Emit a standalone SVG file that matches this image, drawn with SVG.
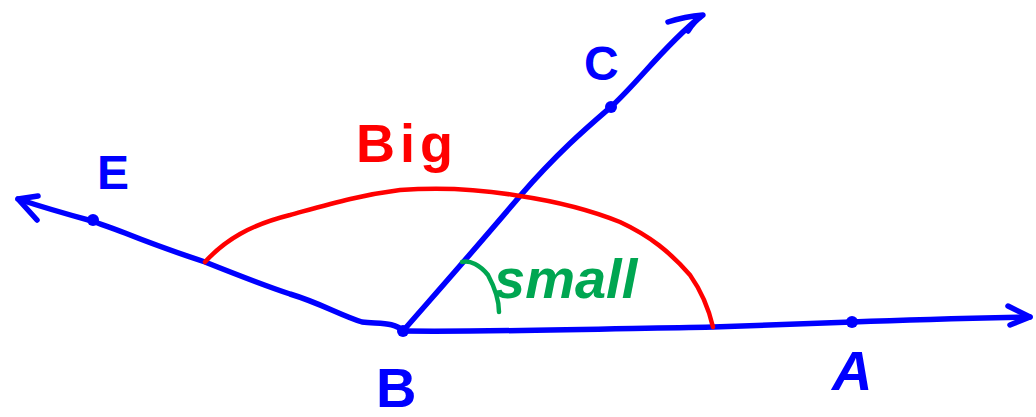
<svg xmlns="http://www.w3.org/2000/svg" width="1036" height="417" viewBox="0 0 1036 417">
<style>
.b{fill:none;stroke:#0000FF;stroke-width:5.5;stroke-linecap:round;stroke-linejoin:round}
.r{fill:none;stroke:#FF0000;stroke-width:4.5;stroke-linecap:round;stroke-linejoin:round}
.g{fill:none;stroke:#00A651;stroke-width:4.5;stroke-linecap:round;stroke-linejoin:round}
.pt{fill:#0000FF}
.lb{font-family:"Liberation Sans",Arial,sans-serif;font-weight:bold;fill:#0000FF}
</style>
<rect width="1036" height="417" fill="#fff"/>
<g id="rays">
  <path id="ray-BA" class="b" d="M403,331 C500,332 600,329 713,327 C780,325 820,323 852,322 C930,319 980,318 1030,317"/>
  <path class="b" d="M1008,306 L1030,317 L1010,325"/>
  <path id="ray-BC" class="b" d="M403,331 C430,300 470,255 520,196 C560,150 590,125 612,106 C640,80 665,45 700,17"/>
  <path class="b" d="M668,22 C680,18 690,16 703,15 C696,20 691,26 688,31"/>
  <path id="ray-BE" class="b" d="M403,331 C395,322 380,324 362,322 C340,315 320,303 290,294 C260,284 230,272 205,262 C175,252 150,243 125,233 C110,227 100,224 92,221 C70,215 45,208 18,199"/>
  <path class="b" d="M38,196 L18,199 L37,220"/>
</g>
<g id="points">
  <circle id="pt-B" class="pt" cx="403" cy="331" r="6"/>
  <circle id="pt-A" class="pt" cx="852" cy="322" r="6"/>
  <circle id="pt-C" class="pt" cx="611" cy="107" r="6"/>
  <circle id="pt-E" class="pt" cx="93" cy="220" r="6"/>
</g>
<g id="angle-big">
  <path class="r" d="M205,262 C225,240 250,225 290,215 C330,204 360,195 400,190 C440,187 480,189 520,196 C560,202 590,210 620,222 C650,236 670,252 690,275 C702,292 709,310 713,327"/>
  <text class="lb" x="356" y="162" font-size="54" style="fill:#FF0000" letter-spacing="5">Big</text>
</g>
<g id="angle-small">
  <path class="g" d="M462,262 C470,260 480,265 488,275 C495,288 499,300 499,312"/>
  <text class="lb" x="494" y="298" font-size="56" font-style="italic" style="fill:#00A651">small</text>
</g>
<g id="labels">
  <text class="lb" x="97" y="189" font-size="48">E</text>
  <text class="lb" x="584" y="80" font-size="48">C</text>
  <text class="lb" x="376" y="407" font-size="56">B</text>
  <text class="lb" x="832" y="390" font-size="56" font-style="italic">A</text>
</g>
</svg>
